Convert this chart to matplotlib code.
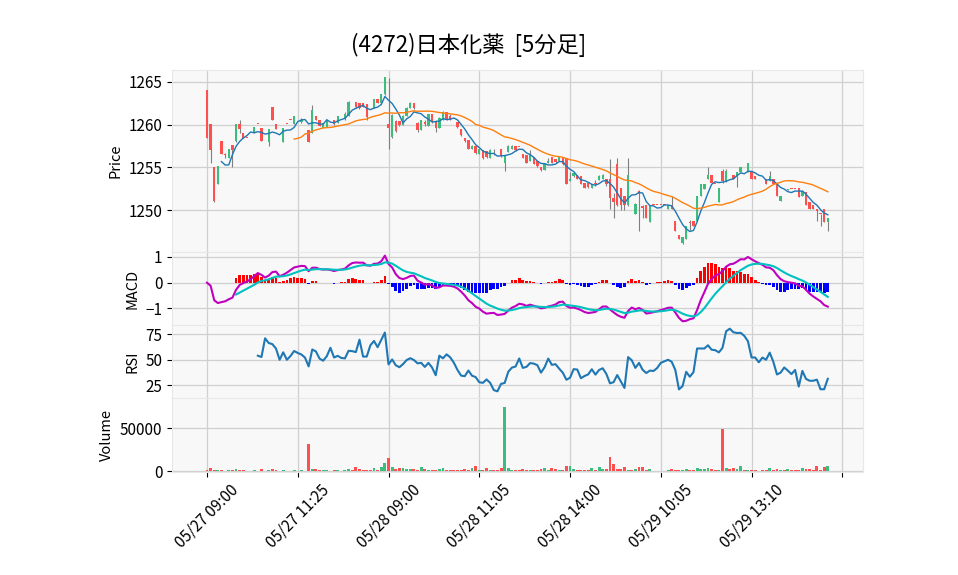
import numpy as np
import pandas as pd
import matplotlib
matplotlib.use('Agg')
import matplotlib.pyplot as plt
from matplotlib.ticker import FuncFormatter

plt.rcParams['font.family'] = ['Noto Sans CJK JP', 'DejaVu Sans']
plt.rcParams['axes.unicode_minus'] = True

title = '(4272)日本化薬  [5分足]'
tick_labels = ['05/27 09:00', '05/27 11:25', '05/28 09:00', '05/28 11:05',
               '05/28 14:00', '05/29 10:05', '05/29 13:10', '']

open_ = [1264.1, 1260.1, 1255.1, 1253.1, 1258.1, 1256.6, 1256.1, 1257.6, 1258.1, 1260.1,
         1259.0, 1258.5, 1259.1, 1259.0, 1260.1, 1259.6, 1257.5, 1258.0, 1262.1, 1260.1,
         1257.1, 1258.0, 1260.1, 1260.6, 1260.1, 1260.5, 1260.3, 1260.3, 1259.4, 1259.0,
         1261.0, 1260.6, 1259.6, 1259.7, 1260.3, 1260.6, 1260.2, 1261.0, 1260.8, 1261.0,
         1262.6, 1262.6, 1262.5, 1262.5, 1262.4, 1261.8, 1261.9, 1263.0, 1262.5, 1263.6,
         1260.1, 1258.6, 1260.4, 1260.4, 1260.0, 1261.0, 1262.0, 1262.5, 1260.2, 1259.4,
         1260.3, 1259.9, 1261.2, 1260.4, 1259.6, 1260.5, 1261.5, 1261.0, 1260.3, 1260.3,
         1259.5, 1258.5, 1258.2, 1257.1, 1257.5, 1256.6, 1257.0, 1256.9, 1256.1, 1256.8,
         1255.5, 1257.1, 1255.5, 1256.8, 1257.1, 1257.5, 1257.4, 1256.6, 1256.4, 1255.8,
         1256.2, 1255.7, 1255.1, 1254.7, 1255.5, 1256.2, 1256.0, 1255.7, 1256.1, 1256.1,
         1253.4, 1254.0, 1254.1, 1254.0, 1253.2, 1253.2, 1252.6, 1253.1, 1253.5, 1253.6,
         1253.6, 1253.6, 1251.4, 1255.4, 1252.6, 1251.6, 1250.6, 1253.0, 1249.6, 1252.2,
         1250.5, 1250.6, 1248.6, 1250.6, 1250.6, 1250.6, 1250.6, 1250.1, 1250.6, 1248.7,
         1247.1, 1246.1, 1246.6, 1248.5, 1248.7, 1248.7, 1251.6, 1252.5, 1253.6, 1254.1,
         1253.1, 1251.0, 1254.6, 1253.4, 1254.1, 1254.1, 1253.9, 1254.5, 1254.1, 1254.5,
         1254.5, 1254.0, 1253.6, 1253.6, 1253.6, 1253.4, 1253.6, 1253.2, 1251.1, 1252.1,
         1252.4, 1252.5, 1252.5, 1252.6, 1251.6, 1252.1, 1251.0, 1250.6, 1250.1, 1249.6,
         1250.1, 1248.6]
high = [1264.1, 1260.1, 1255.1, 1255.2, 1258.1, 1256.7, 1257.1, 1257.6, 1260.1, 1260.6,
        1259.0, 1258.5, 1259.1, 1259.7, 1260.1, 1259.6, 1257.5, 1259.5, 1262.1, 1260.1,
        1257.1, 1259.6, 1260.1, 1260.6, 1261.0, 1260.5, 1260.8, 1260.3, 1259.4, 1262.3,
        1261.0, 1260.6, 1260.2, 1260.6, 1260.3, 1260.6, 1261.0, 1261.0, 1261.5, 1262.8,
        1262.6, 1262.6, 1262.5, 1262.5, 1262.4, 1261.8, 1263.0, 1263.0, 1263.6, 1265.6,
        1265.5, 1261.2, 1260.6, 1260.4, 1261.1, 1262.1, 1262.6, 1262.5, 1260.3, 1260.6,
        1260.6, 1261.3, 1261.2, 1260.5, 1260.9, 1261.6, 1261.5, 1261.2, 1260.3, 1260.3,
        1259.5, 1258.5, 1258.2, 1257.6, 1257.5, 1257.2, 1257.0, 1256.9, 1257.1, 1257.1,
        1255.5, 1257.1, 1256.5, 1257.6, 1257.6, 1257.5, 1257.4, 1256.6, 1256.4, 1257.0,
        1256.2, 1255.7, 1255.1, 1255.5, 1256.1, 1256.2, 1256.0, 1256.2, 1256.1, 1256.1,
        1254.5, 1254.4, 1254.1, 1254.0, 1253.2, 1253.2, 1253.1, 1253.5, 1254.1, 1254.2,
        1253.6, 1256.0, 1252.0, 1256.1, 1252.6, 1251.6, 1256.1, 1253.0, 1250.8, 1252.3,
        1250.6, 1250.6, 1250.6, 1250.6, 1250.6, 1250.6, 1250.6, 1250.6, 1251.6, 1248.7,
        1247.1, 1246.8, 1248.1, 1248.9, 1248.7, 1251.6, 1253.1, 1253.1, 1255.0, 1254.1,
        1253.1, 1252.6, 1254.8, 1254.8, 1254.1, 1254.1, 1254.5, 1255.0, 1254.1, 1255.5,
        1254.5, 1254.0, 1253.6, 1253.6, 1253.6, 1254.6, 1253.6, 1253.2, 1251.6, 1252.1,
        1252.5, 1252.5, 1252.5, 1252.6, 1252.2, 1252.1, 1251.0, 1250.6, 1250.1, 1249.6,
        1250.1, 1249.1]
low = [1258.4, 1255.5, 1251.0, 1253.1, 1256.6, 1256.1, 1256.1, 1255.0, 1258.0, 1259.0,
       1258.5, 1258.5, 1259.1, 1259.0, 1260.1, 1258.1, 1257.5, 1257.5, 1260.5, 1259.5,
       1257.1, 1258.0, 1260.1, 1260.6, 1260.1, 1260.5, 1260.2, 1260.3, 1258.0, 1259.0,
       1260.5, 1259.9, 1259.6, 1259.7, 1260.3, 1260.0, 1260.2, 1261.0, 1260.5, 1261.0,
       1262.6, 1262.0, 1261.8, 1262.1, 1260.5, 1261.8, 1261.9, 1262.5, 1262.5, 1263.5,
       1257.1, 1258.4, 1259.2, 1259.8, 1260.0, 1261.0, 1261.9, 1261.8, 1259.2, 1259.4,
       1259.8, 1259.9, 1260.2, 1259.2, 1259.6, 1260.5, 1260.6, 1260.6, 1260.3, 1259.6,
       1258.7, 1258.0, 1257.1, 1257.1, 1256.6, 1256.6, 1256.0, 1256.1, 1256.1, 1256.5,
       1255.5, 1256.2, 1254.6, 1256.8, 1257.1, 1256.9, 1257.4, 1256.1, 1255.5, 1255.8,
       1255.4, 1255.1, 1254.6, 1254.7, 1255.5, 1255.5, 1255.5, 1255.7, 1255.3, 1253.0,
       1253.4, 1253.9, 1253.6, 1253.1, 1252.6, 1252.6, 1252.6, 1252.8, 1253.5, 1253.6,
       1252.8, 1250.1, 1249.1, 1250.5, 1250.0, 1250.0, 1250.5, 1253.0, 1249.5, 1247.6,
       1249.1, 1249.1, 1248.6, 1250.6, 1250.6, 1250.6, 1250.6, 1250.1, 1250.1, 1247.5,
       1246.6, 1246.0, 1246.6, 1247.7, 1248.1, 1248.7, 1251.6, 1252.5, 1253.6, 1253.2,
       1253.1, 1251.0, 1253.2, 1253.3, 1254.1, 1253.6, 1252.7, 1254.5, 1254.1, 1254.5,
       1253.6, 1253.6, 1253.6, 1253.6, 1253.1, 1253.4, 1253.0, 1251.6, 1251.1, 1252.1,
       1252.4, 1252.5, 1252.5, 1251.5, 1251.6, 1250.6, 1250.1, 1250.1, 1248.7, 1248.1,
       1248.6, 1247.5]
close = [1258.5, 1257.0, 1251.1, 1255.2, 1256.6, 1256.5, 1257.1, 1257.0, 1260.1, 1259.5,
         1258.5, 1258.5, 1259.1, 1259.7, 1260.1, 1258.1, 1257.5, 1259.5, 1260.5, 1259.5,
         1257.1, 1259.6, 1260.1, 1260.6, 1261.0, 1260.5, 1260.6, 1260.3, 1258.0, 1261.7,
         1260.5, 1259.9, 1260.2, 1260.6, 1260.3, 1260.1, 1261.0, 1261.0, 1261.3, 1262.6,
         1262.6, 1262.1, 1261.9, 1262.1, 1260.9, 1261.8, 1263.0, 1262.5, 1263.6, 1265.6,
         1259.6, 1261.1, 1259.3, 1260.0, 1261.0, 1262.0, 1262.5, 1262.0, 1259.4, 1260.5,
         1260.1, 1261.2, 1260.4, 1259.6, 1260.8, 1261.5, 1260.7, 1260.6, 1260.3, 1259.7,
         1258.8, 1258.1, 1257.2, 1257.5, 1256.7, 1257.1, 1256.1, 1256.2, 1257.0, 1256.8,
         1255.5, 1256.3, 1256.3, 1257.5, 1257.5, 1257.0, 1257.4, 1256.1, 1255.5, 1256.5,
         1255.4, 1255.2, 1254.7, 1255.4, 1255.7, 1255.5, 1255.6, 1256.2, 1255.4, 1253.0,
         1253.7, 1254.3, 1253.6, 1253.1, 1252.6, 1252.7, 1253.1, 1253.1, 1254.0, 1254.1,
         1253.0, 1251.4, 1251.0, 1250.6, 1250.6, 1250.6, 1254.1, 1253.0, 1250.7, 1251.9,
         1250.3, 1249.1, 1250.6, 1250.6, 1250.6, 1250.6, 1250.6, 1250.6, 1250.1, 1247.5,
         1246.6, 1246.8, 1248.1, 1248.5, 1248.1, 1251.6, 1253.1, 1253.1, 1254.1, 1253.2,
         1253.1, 1252.6, 1253.4, 1254.6, 1254.1, 1253.6, 1254.5, 1255.0, 1254.1, 1255.5,
         1253.6, 1253.6, 1253.6, 1253.6, 1253.1, 1254.0, 1253.0, 1251.6, 1251.6, 1252.1,
         1252.5, 1252.5, 1252.5, 1251.5, 1252.2, 1250.6, 1250.1, 1250.1, 1249.9, 1249.6,
         1248.6, 1249.1]
volume = [1800, 3000, 900, 900, 1200, 600, 900, 800, 2400, 1200,
          900, 300, 300, 700, 300, 2800, 400, 1200, 2600, 1400,
          300, 1200, 300, 300, 1400, 300, 800, 300, 32000, 2400,
          2000, 1500, 900, 800, 600, 800, 900, 600, 1500, 2000,
          800, 4800, 2000, 1000, 1500, 800, 3500, 1200, 4800, 9700,
          15700, 4800, 2500, 3200, 3200, 2800, 2500, 2000, 1500, 4500,
          2500, 1500, 800, 1200, 2000, 3500, 1500, 1000, 800, 1500,
          1500, 2500, 1500, 3500, 6000, 1500, 900, 3700, 700, 1200,
          800, 3000, 75000, 3500, 1500, 1800, 1200, 2400, 1200, 1800,
          1200, 1500, 2500, 3000, 1200, 4000, 2000, 1200, 1500, 6000,
          6000, 2200, 1500, 1000, 800, 800, 3500, 1500, 4500, 2200,
          2000, 16800, 7800, 2500, 2000, 4500, 1800, 1500, 2000, 4500,
          4500, 1500, 2000, 500, 500, 500, 600, 1500, 2000, 1800,
          1500, 1500, 2500, 1200, 1800, 3500, 2000, 2000, 3000, 2400,
          800, 1500, 49000, 3500, 2000, 3500, 2000, 6000, 900, 1500,
          1500, 800, 600, 800, 1500, 3000, 1500, 2500, 1500, 800,
          2500, 900, 900, 1500, 3000, 2000, 2500, 1500, 6000, 1500,
          4500, 6000]

df = pd.DataFrame({'open': open_, 'high': high, 'low': low, 'close': close, 'volume': volume})
x = np.arange(len(df))
up = df['close'] > df['open']
up_c, down_c = '#3dbd7d', '#ff5050'
colors = np.where(up, up_c, down_c)

# indicators
ma5 = df['close'].rolling(5).mean()
ma25 = df['close'].rolling(25).mean()
ema12 = df['close'].ewm(span=12, adjust=False).mean()
ema26 = df['close'].ewm(span=26, adjust=False).mean()
macd = ema12 - ema26
signal = macd.ewm(span=9, adjust=False, min_periods=9).mean()
hist = macd - signal
delta = df['close'].diff()
gain = delta.clip(lower=0).rolling(14).mean()
loss = (-delta.clip(upper=0)).rolling(14).mean()
rsi = 100 - 100 / (1 + gain / loss)

fig = plt.figure(figsize=(9.58, 5.75), dpi=100)
L, W = 172 / 958, 691 / 958
def px(top, bot):
    return [L, 1 - bot / 575, W, (bot - top) / 575]
ax1 = fig.add_axes(px(70, 252))
ax2 = fig.add_axes(px(252, 325), sharex=ax1)
ax3 = fig.add_axes(px(325, 398), sharex=ax1)
ax4 = fig.add_axes(px(398, 472), sharex=ax1)

for ax in (ax1, ax2, ax3, ax4):
    ax.set_facecolor('#f8f8f8')
    ax.grid(True, color='#d0d0d0', lw=0.9)
    ax.set_axisbelow(True)
    for s in ax.spines.values():
        s.set_color('#e8e8e8')
    ax.tick_params(labelsize=11, length=3.5)

# candles
ax1.vlines(x, df['low'], df['high'], color='#808080', lw=0.8, zorder=2)
body = (df['close'] - df['open']).abs().clip(lower=0.06)
bottom = np.minimum(df['open'], df['close'])
ax1.bar(x, body, bottom=bottom, width=0.65, color=colors, zorder=3)
ax1.plot(x, ma5, color='#1f77b4', lw=1.0, zorder=4)
ax1.plot(x, ma25, color='#ff7f0e', lw=1.0, zorder=4)
ax1.set_ylim(1245.1, 1266.4)
ax1.set_yticks([1250, 1255, 1260, 1265])
ax1.set_ylabel('Price', fontsize=10.5)

# MACD
ax2.bar(x, hist, width=0.75, color=np.where(hist > 0, 'red', 'blue'), zorder=2)
ax2.plot(x, macd, color='#c000c0', lw=1.5, zorder=3)
ax2.plot(x, signal, color='#00c0c0', lw=1.5, zorder=3)
ax2.set_ylim(-1.64, 1.19)
ax2.set_yticks([-1, 0, 1])
ax2.set_ylabel('MACD', fontsize=10.5)

# RSI
ax3.plot(x, rsi, color='#1f77b4', lw=1.5)
ax3.set_ylim(12.5, 84.1)
ax3.set_yticks([25, 50, 75])
ax3.set_ylabel('RSI', fontsize=10.5)

# volume
ax4.bar(x, df['volume'], width=0.8, color=colors)
ax4.set_ylim(-1100, 84900)
ax4.set_yticks([0, 50000])
ax4.yaxis.set_major_formatter(FuncFormatter(lambda v, p: f'{int(v)}'))
ax4.set_ylabel('Volume', fontsize=10.5)

ax4.set_xlim(-9.64, 180.7)
ax4.set_xticks(np.arange(0, 176, 25))
ax4.set_xticklabels(tick_labels, rotation=45, ha='center')
for ax in (ax1, ax2, ax3):
    ax.tick_params(axis='x', labelbottom=False, length=0)

fig.text(469 / 958, 1 - 45 / 575, title, ha='center', va='center', fontsize=16)

fig.savefig('out.png', dpi=100)
